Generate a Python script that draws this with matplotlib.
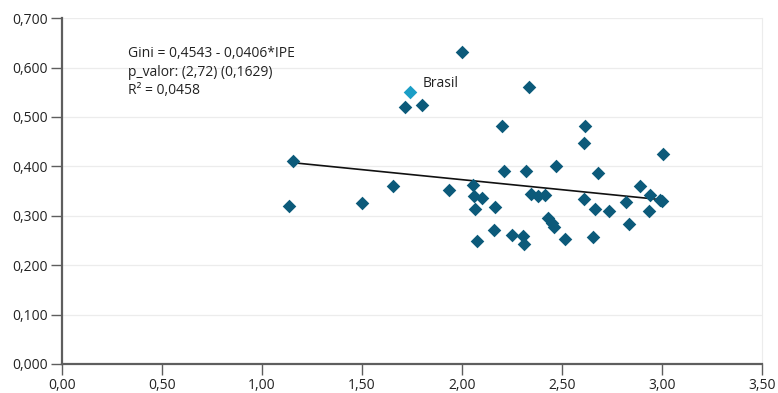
import numpy as np
import matplotlib.pyplot as plt

plt.rcParams["font.family"] = ["Open Sans", "DejaVu Sans"]

# IPE (x) and Gini (y) values
ipe = [1.157, 1.137, 1.498, 1.653, 1.715, 1.800, 1.935, 2.003, 2.057, 2.060,
       2.100, 2.068, 2.078, 2.160, 2.168, 2.200, 2.210, 2.250, 2.307, 2.310,
       2.323, 2.337, 2.345, 2.380, 2.415, 2.430, 2.450, 2.460, 2.470, 2.515,
       2.610, 2.617, 2.610, 2.657, 2.665, 2.683, 2.735, 2.820, 2.837, 2.893,
       2.935, 2.943, 2.990, 3.003, 3.008]
gini = [0.410, 0.320, 0.326, 0.361, 0.520, 0.524, 0.353, 0.632, 0.362, 0.341,
        0.335, 0.313, 0.249, 0.271, 0.317, 0.482, 0.391, 0.261, 0.259, 0.243,
        0.391, 0.560, 0.345, 0.340, 0.342, 0.295, 0.285, 0.278, 0.401, 0.253,
        0.447, 0.482, 0.333, 0.258, 0.314, 0.386, 0.310, 0.327, 0.283, 0.361,
        0.310, 0.343, 0.331, 0.329, 0.426]
brasil_x, brasil_y = 1.74, 0.551

intercept, slope = 0.4543, -0.0406

dark = "#0c5a7a"
light = "#1b9ec6"
axis_col = "#5e5e5e"

fig = plt.figure(figsize=(7.78, 3.93), dpi=100)
ax = fig.add_axes([0.0797, 0.0738, 0.8995, 0.880])

ax.scatter(ipe, gini, marker="D", s=48, color=dark, zorder=3, linewidths=0)
ax.scatter([brasil_x], [brasil_y], marker="D", s=48, color=light, zorder=3,
           linewidths=0)
ax.text(brasil_x + 0.065, brasil_y + 0.016, "Brasil", fontsize=10,
        va="center", ha="left", color="#222222")

xs = np.array([min(ipe), max(ipe)])
ax.plot(xs, intercept + slope * xs, color="#111111", lw=1.2, zorder=2)

ax.text(0.33, 0.643, "Gini = 0,4543 - 0,0406*IPE\np_valor: (2,72) (0,1629)\n"
        "R² = 0,0458", fontsize=10, va="top", ha="left",
        linespacing=1.3, color="#222222")

ax.set_xlim(0, 3.5)
ax.set_ylim(0, 0.7)
ax.set_xticks(np.arange(0, 3.51, 0.5))
ax.set_yticks(np.arange(0, 0.701, 0.1))
ax.set_xticklabels(["{:.2f}".format(v).replace(".", ",")
                    for v in ax.get_xticks()])
ax.set_yticklabels(["{:.3f}".format(v).replace(".", ",")
                    for v in ax.get_yticks()])
ax.yaxis.grid(True, color="#ececec", lw=0.9)
ax.set_axisbelow(True)

ax.spines["top"].set_visible(False)
ax.spines["right"].set_color("#ececec")
for side in ["left", "bottom"]:
    ax.spines[side].set_color(axis_col)
    ax.spines[side].set_linewidth(1.6)
ax.tick_params(axis="both", colors=axis_col, length=8, width=1.0,
               labelsize=10, labelcolor="#222222", pad=2)

fig.savefig("out.png", dpi=100)
